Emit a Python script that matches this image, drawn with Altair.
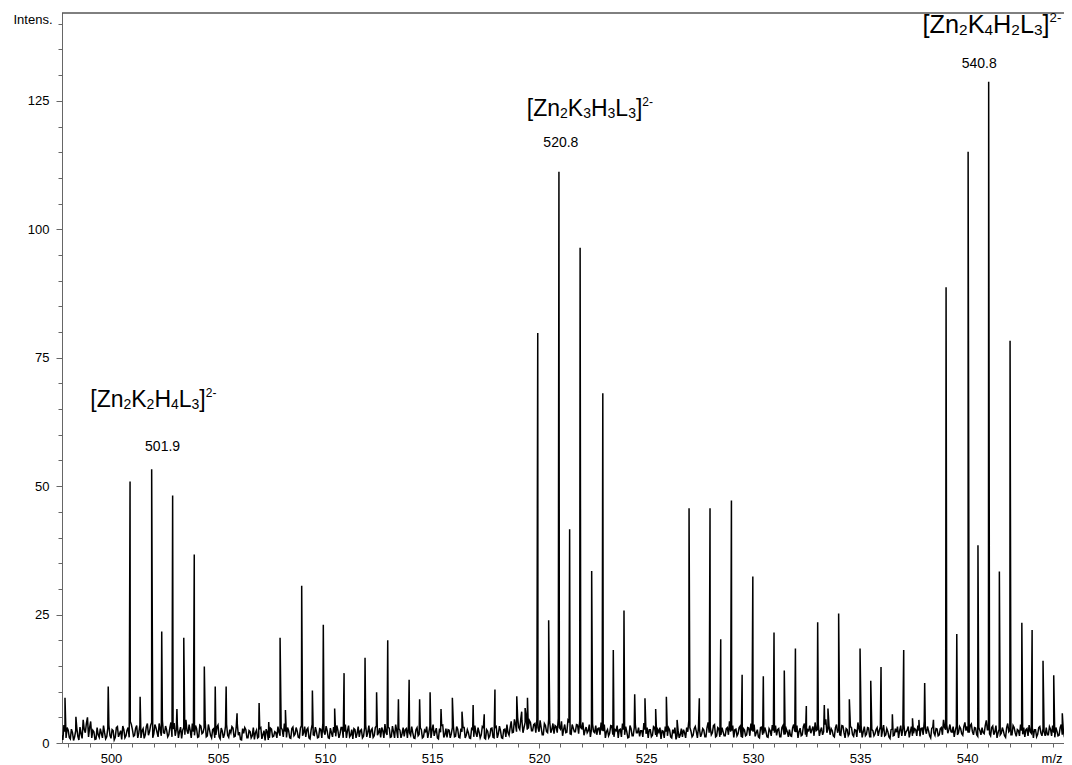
import altair as alt
import pandas as pd

# ---------------- data ----------------
X_DOMAIN = [497.71, 544.53]
Y_DOMAIN = [0, 142.1]

# baseline noise, one value every 0.1 m/z starting at 497.7 (hand-estimated)
NOISE_START = 497.7
NOISE_STEP = 0.1
NOISE = [
    1.5, 3.5, 1.0, 2.5, 0.8, 2.0, 1.2, 3.0, 0.6, 1.8,
    4.5, 2.0, 5.0, 3.0, 1.0, 2.2, 0.8, 1.6, 2.8, 1.0,
    2.0, 1.2, 3.5, 0.9, 2.4, 1.1, 3.2, 1.8, 0.7, 2.6,
    1.4, 3.0, 4.2, 2.6, 1.5, 3.4, 2.0, 1.0, 2.8, 1.6,
    3.8, 2.2, 4.0, 1.8, 3.0, 1.2, 2.6, 4.4, 1.9, 2.5,
    1.6, 4.0, 2.7, 1.4, 3.6, 2.2, 0.9, 3.0, 4.5, 1.8,
    2.4, 3.8, 1.5, 2.8, 1.2, 3.3, 2.0, 4.2, 1.4, 2.6,
    1.0, 2.8, 1.6, 3.5, 0.8, 2.3, 1.7, 3.6, 1.1, 2.0,
    2.9, 1.3, 3.8, 2.1, 0.6, 1.9, 2.6, 1.0, 2.2, 1.4,
    0.7, 2.5, 1.2, 3.0, 1.6, 0.5, 2.1, 1.0, 2.7, 1.3,
    2.0, 3.2, 1.4, 2.6, 3.8, 1.1, 2.4, 0.9, 3.1, 1.7,
    2.3, 1.0, 3.4, 2.0, 1.2, 2.9, 0.8, 3.6, 1.5, 2.2,
    1.1, 2.7, 3.9, 1.6, 2.4, 0.9, 2.0, 3.1, 1.3, 2.5,
    1.8, 3.0, 2.2, 1.0, 3.4, 1.5, 0.8, 2.6, 1.9, 1.2,
    2.6, 1.3, 3.5, 2.1, 1.0, 2.8, 1.4, 3.3, 2.0, 1.1,
    2.4, 3.7, 1.6, 2.9, 1.2, 2.2, 3.6, 1.0, 2.5, 1.8,
    1.3, 2.8, 3.4, 1.5, 2.0, 0.9, 3.0, 1.7, 2.6, 1.2,
    2.2, 1.0, 3.3, 2.4, 1.4, 2.9, 0.8, 2.1, 3.5, 1.6,
    1.1, 2.5, 1.8, 3.2, 1.3, 2.7, 1.0, 2.2, 3.0, 1.5,
    2.0, 0.9, 2.6, 3.4, 1.2, 2.1, 1.6, 3.0, 0.8, 2.3,
    1.4, 2.9, 1.0, 3.2, 1.8, 2.4, 0.9, 2.7, 3.6, 1.5,
    4.2, 2.1, 3.6, 5.0, 2.6, 4.4, 3.0, 5.2, 2.8, 4.0,
    2.4, 3.8, 4.6, 2.2, 3.0, 1.6, 3.4, 2.0, 4.1, 2.6,
    1.8, 3.2, 4.8, 2.7, 1.4, 3.6, 2.1, 4.0, 1.7, 2.9,
    2.2, 3.5, 4.3, 2.8, 1.5, 3.1, 2.4, 1.2, 3.7, 2.0,
    1.6, 2.9, 4.0, 2.3, 1.0, 2.6, 1.9, 3.3, 1.2, 2.4,
    1.0, 2.7, 3.8, 1.6, 2.2, 1.1, 2.8, 1.4, 3.6, 2.0,
    1.3, 2.4, 3.9, 1.8, 1.0, 2.6, 1.5, 3.0, 1.2, 2.1,
    0.8, 2.3, 3.2, 1.4, 2.6, 1.0, 1.9, 0.7, 2.4, 1.6,
    1.2, 2.0, 3.0, 4.4, 2.3, 1.5, 3.2, 1.0, 2.6, 1.8,
    2.5, 1.2, 4.0, 3.1, 2.0, 3.6, 1.4, 2.8, 1.6, 2.2,
    1.4, 3.0, 4.2, 2.4, 1.1, 2.7, 1.8, 3.3, 1.0, 2.5,
    1.6, 2.9, 3.8, 2.2, 1.3, 2.6, 1.0, 3.1, 1.9, 2.3,
    1.1, 2.4, 3.5, 2.0, 1.5, 2.8, 1.2, 3.4, 1.7, 2.2,
    2.6, 1.3, 3.6, 2.1, 1.0, 2.9, 1.6, 3.8, 1.2, 2.4,
    1.9, 3.2, 4.0, 2.6, 1.4, 3.0, 2.2, 4.6, 2.8, 1.6,
    2.4, 1.2, 3.6, 2.8, 1.5, 3.3, 1.0, 2.6, 1.8, 3.0,
    1.3, 2.5, 4.0, 2.0, 1.1, 3.2, 1.7, 2.9, 1.2, 2.4,
    1.8, 3.0, 2.4, 1.2, 3.5, 1.6, 2.2, 0.9, 2.7, 1.5,
    2.1, 1.0, 3.4, 2.8, 1.4, 2.5, 1.1, 3.2, 1.9, 2.6,
    3.4, 1.3, 2.9, 4.2, 1.8, 2.4, 1.0, 3.1, 1.5, 2.7,
    1.6, 3.0, 4.5, 2.6, 1.9, 3.6, 2.1, 1.2, 3.3, 2.0,
    2.8, 1.5, 4.0, 3.2, 2.0, 3.7, 1.6, 2.9, 1.3, 2.4,
    3.0, 1.8, 4.4, 2.6, 1.4, 3.3, 2.2, 1.0, 2.7, 1.9,
    2.3, 1.1, 3.8, 2.5, 1.6, 3.0, 1.3, 2.4, 3.6, 1.7,
    1.2, 2.8, 3.5, 1.9, 1.0, 2.6, 1.7, 3.2, 1.4, 2.2,
    3.0, 1.6, 2.7, 3.4, 1.1, 2.3, 1.5, 3.6, 2.4, 1.0,
    2.6, 1.4, 3.0,
]

# baseline noise at the midpoints 497.75, 497.85, ... (hand-estimated)
NOISE_MID_START = 497.75
NOISE_MID = [
    0.6, 2.2, 3.0, 1.1, 2.7, 0.5, 2.4, 1.3, 3.1, 0.9,
    2.6, 3.8, 1.2, 4.2, 2.5, 0.7, 3.0, 1.1, 1.9, 3.4,
    0.8, 2.9, 1.5, 2.6, 0.6, 3.0, 1.2, 2.4, 3.3, 1.0,
    2.5, 1.1, 3.6, 1.3, 2.9, 1.0, 3.5, 2.4, 0.9, 3.2,
    1.5, 3.4, 1.0, 3.6, 2.1, 3.8, 1.4, 2.0, 3.3, 1.2,
    3.0, 1.2, 3.9, 2.6, 1.0, 3.1, 2.5, 1.6, 2.4, 3.6,
    1.0, 2.2, 3.4, 1.1, 3.5, 1.8, 3.0, 1.2, 3.6, 1.5,
    2.6, 1.0, 3.1, 1.2, 2.9, 1.0, 3.3, 1.5, 2.6, 3.2,
    1.2, 3.1, 1.5, 0.7, 2.8, 3.0, 1.0, 2.4, 1.0, 3.0,
    2.0, 1.0, 2.8, 0.8, 2.4, 2.7, 0.6, 2.9, 1.2, 2.2,
    1.0, 2.1, 3.0, 1.2, 2.2, 3.0, 1.0, 2.8, 1.4, 3.0,
    1.1, 2.9, 1.4, 3.2, 2.6, 1.0, 2.5, 1.6, 3.1, 1.0,
    2.8, 1.0, 2.2, 3.3, 1.0, 2.9, 1.2, 2.0, 3.4, 1.0,
    3.0, 1.0, 3.6, 2.4, 1.2, 2.6, 2.8, 1.0, 3.2, 2.4,
    1.0, 3.0, 1.2, 3.4, 2.5, 1.1, 3.0, 1.5, 2.9, 3.0,
    1.0, 2.0, 3.0, 1.1, 3.3, 1.0, 2.4, 2.8, 1.0, 3.0,
    2.6, 1.0, 2.0, 3.2, 1.0, 2.6, 1.4, 3.0, 1.0, 2.5,
    3.2, 2.0, 1.0, 3.6, 2.2, 1.0, 2.8, 3.4, 1.1, 2.8,
    2.6, 1.0, 3.0, 1.2, 3.2, 1.1, 2.8, 3.0, 1.0, 2.6,
    1.0, 2.8, 1.2, 2.0, 3.0, 1.0, 3.2, 1.0, 2.6, 1.0,
    2.8, 1.1, 3.0, 1.0, 3.3, 1.0, 2.6, 1.2, 2.0, 3.0,
    2.0, 4.6, 2.2, 3.0, 4.8, 2.0, 4.0, 2.6, 4.4, 2.4,
    3.6, 2.0, 3.0, 4.4, 1.6, 3.8, 2.2, 4.6, 2.0, 3.8,
    3.4, 2.0, 3.0, 4.2, 2.6, 2.0, 4.4, 1.8, 3.6, 2.2,
    3.6, 1.8, 3.0, 4.0, 2.4, 2.0, 3.6, 2.6, 2.2, 3.4,
    2.8, 1.6, 2.4, 3.6, 2.2, 1.4, 3.4, 1.6, 2.6, 3.4,
    2.6, 1.2, 2.6, 3.2, 1.0, 3.4, 1.4, 3.0, 2.0, 3.0,
    2.4, 1.2, 2.6, 3.0, 2.6, 1.2, 3.2, 1.6, 2.6, 3.0,
    2.4, 1.0, 2.2, 3.0, 1.2, 2.6, 3.0, 1.4, 1.0, 2.8,
    2.6, 1.0, 2.2, 3.0, 1.2, 2.8, 2.2, 3.0, 1.2, 2.8,
    1.2, 3.0, 2.0, 1.6, 3.4, 1.2, 3.0, 1.2, 3.0, 1.4,
    2.8, 1.6, 2.2, 3.4, 2.6, 1.4, 3.0, 1.2, 2.8, 1.4,
    3.0, 1.4, 2.4, 3.6, 2.0, 1.2, 3.0, 1.6, 3.0, 1.2,
    2.8, 1.4, 2.4, 3.4, 2.6, 1.2, 3.0, 1.6, 2.8, 1.2,
    1.4, 3.0, 2.2, 3.4, 2.2, 1.4, 3.2, 1.6, 2.6, 3.4,
    2.6, 1.4, 2.4, 3.6, 2.4, 1.6, 3.6, 2.0, 3.4, 2.8,
    1.4, 3.0, 2.0, 1.6, 3.4, 2.0, 2.8, 1.4, 3.2, 1.6,
    2.6, 1.2, 2.8, 3.4, 2.2, 1.4, 3.0, 1.2, 2.6, 1.4,
    2.6, 1.4, 3.2, 2.4, 1.4, 2.8, 1.2, 2.6, 1.4, 2.8,
    3.2, 2.4, 1.4, 3.6, 2.2, 3.2, 2.2, 1.4, 2.8, 1.4,
    2.4, 2.8, 1.6, 2.8, 3.2, 1.4, 2.8, 2.0, 2.8, 1.4,
    2.8, 1.6, 3.0, 3.6, 2.6, 2.2, 3.2, 2.4, 1.6, 3.2,
    1.8, 3.2, 2.4, 2.0, 3.4, 2.2, 3.0, 1.6, 3.0, 1.6,
    2.0, 3.4, 2.6, 1.8, 3.0, 1.6, 3.4, 2.0, 1.6, 3.0,
    1.4, 3.0, 2.2, 1.6, 3.4, 2.0, 2.6, 1.4, 2.4, 3.0,
    2.6, 1.4, 2.2, 3.0, 2.6, 1.2, 3.0, 2.0, 2.8, 1.4,
    1.6, 3.2, 1.4, 2.0, 3.0, 1.4, 3.0, 1.6, 1.2, 3.0,
    1.6, 3.2,
]

# isotope peaks (m/z, intensity)
PEAK_MZ = [
    497.85, 498.36, 499.87, 500.89, 501.36, 501.90, 502.37, 502.88, 503.08,
    503.40, 503.89, 504.36, 504.87, 505.38, 505.89, 506.92, 507.37, 507.90,
    508.15, 508.91, 509.41, 509.92, 510.45, 510.89, 511.87, 512.41, 512.93,
    513.43, 513.93, 514.42, 514.91, 515.42, 515.95, 516.40, 516.92, 517.44,
    517.94, 518.96, 519.19, 519.35, 519.46, 519.94, 520.45, 520.93, 521.43,
    521.92, 522.46, 522.98, 523.47, 523.97, 524.47, 524.95, 525.45, 525.95,
    526.45, 527.01, 527.49, 527.99, 528.49, 528.99, 529.49, 529.99, 530.48,
    530.98, 531.46, 531.98, 532.49, 533.02, 533.33, 533.50, 534.00, 534.50,
    535.00, 535.50, 535.98, 536.51, 537.04, 537.45, 537.75, 538.02, 538.43,
    539.02, 539.52, 540.05, 540.51, 541.01, 541.51, 542.01, 542.56, 543.04,
    543.55, 544.05, 544.45,
]
PEAK_INT = [
    8.8, 5.1, 11.0, 50.9, 9.0, 53.3, 21.7, 48.2, 6.6,
    20.5, 36.7, 14.9, 11.0, 11.0, 5.8, 7.8, 4.1, 20.5,
    6.4, 30.6, 10.2, 23.0, 6.7, 13.6, 16.6, 9.9, 20.0,
    8.5, 12.3, 8.5, 9.9, 6.6, 8.8, 6.1, 7.4, 5.6,
    10.4, 9.1, 6.1, 6.8, 8.8, 79.8, 23.9, 111.2, 41.6,
    96.4, 33.5, 68.1, 18.1, 25.8, 9.5, 8.7, 6.6, 9.0,
    4.5, 45.7, 8.7, 45.7, 20.2, 47.2, 13.3, 32.4, 13.0,
    21.5, 14.1, 18.4, 7.2, 23.5, 7.4, 6.7, 25.2, 8.5,
    18.4, 12.1, 14.8, 5.6, 18.1, 4.8, 4.5, 11.7, 4.5,
    88.7, 21.2, 115.1, 38.5, 128.7, 33.4, 78.3, 23.4, 22.0,
    16.0, 13.2, 5.8,
]

# ion formula annotations (left edge and baseline, in data units)
FORMULA_MZ = [499.03, 519.43, 537.92]
FORMULA_INT = [65.5, 122.1, 138.2]
FORMULA_K = ["2", "3", "4"]
FORMULA_H = ["4", "3", "2"]
FORMULA_SCALE = [1.0, 1.0, 1.10]

# m/z labels
MASS_TEXT = ["501.9", "520.8", "540.8"]
MASS_MZ = [502.41, 521.02, 540.57]
MASS_INT = [56.9, 116.1, 131.4]

X_TICKS = list(range(498, 545))
Y_TICKS = list(range(0, 141, 5))

FONT = "Liberation Sans"
PLOT_W = 1002
PLOT_H = 730

# ---------------- tables ----------------
noise_df = pd.DataFrame({
    "mz": [round(NOISE_START + i * NOISE_STEP, 3) for i in range(len(NOISE))]
    + [round(NOISE_MID_START + i * NOISE_STEP, 3) for i in range(len(NOISE_MID))],
    "intensity": NOISE + NOISE_MID,
})
peak_df = pd.DataFrame({"mz": PEAK_MZ, "intensity": PEAK_INT})
spec = pd.concat([noise_df, peak_df]).sort_values("mz", kind="stable").reset_index(drop=True)
spec["order"] = range(len(spec))

xs = alt.Scale(domain=X_DOMAIN, nice=False, zero=False)
ys = alt.Scale(domain=Y_DOMAIN, nice=False, zero=False)

x_axis = alt.Axis(
    orient="bottom", values=X_TICKS,
    labelExpr="datum.value % 5 === 0 ? datum.label : ''",
    labelOverlap=False, labelFlush=False, labelBound=False,
    tickSize={"condition": {"test": "datum.value % 5 === 0", "value": 5}, "value": 4},
    labelPadding=4,
    title="m/z", titleX=PLOT_W - 2, titleY=19, titleAlign="right",
    titleBaseline="alphabetic", titleAnchor="start",
)
y_axis = alt.Axis(
    orient="left", values=Y_TICKS,
    labelExpr="datum.value % 25 === 0 ? datum.label : ''",
    labelOverlap=False, labelBound=False,
    tickSize={"condition": {"test": "datum.value % 25 === 0", "value": 6}, "value": 4},
    labelPadding=7,
    title="Intens.", titleAngle=0, titleX=-10, titleY=10,
    titleAlign="right", titleBaseline="alphabetic", titleAnchor="start",
)

line = alt.Chart(spec).mark_line(color="black", strokeWidth=1.5, clip=True).encode(
    x=alt.X("mz:Q", scale=xs, axis=x_axis),
    y=alt.Y("intensity:Q", scale=ys, axis=y_axis),
    order="order:Q",
)

# top frame line of the plot box
frame = alt.Chart(pd.DataFrame({"k": [0]})).mark_rule(color="black", strokeWidth=1).encode(
    x=alt.value(0), x2=alt.value(PLOT_W), y=alt.value(0)
)

mass_df = pd.DataFrame({"mz": MASS_MZ, "intensity": MASS_INT, "label": MASS_TEXT})
mass = alt.Chart(mass_df).mark_text(
    font=FONT, fontSize=14, align="center", baseline="alphabetic", color="black"
).encode(
    x=alt.X("mz:Q", scale=xs, axis=None),
    y=alt.Y("intensity:Q", scale=ys, axis=None),
    text="label:N",
)

# formula pieces: (text key, kind, advance width in em of an Arial-metric font)
PIECES = [
    ("[Zn", "main", 1.445), ("2", "sub", 0.556), ("K", "main", 0.667),
    ("k", "sub", 0.556), ("H", "main", 0.722), ("h", "sub", 0.556),
    ("L", "main", 0.556), ("3", "sub", 0.556), ("]", "main", 0.278),
    ("2-", "sup", 0.9),
]
SIZES = {"main": 23, "sub": 14, "sup": 12}
DYS = {"main": 0, "sub": 2, "sup": -10}

formula_layers = []
for i in range(len(FORMULA_MZ)):
    sc = FORMULA_SCALE[i]
    dx = 0.0
    for key, kind, adv in PIECES:
        txt = FORMULA_K[i] if key == "k" else FORMULA_H[i] if key == "h" else key
        d = pd.DataFrame({"mz": [FORMULA_MZ[i]], "intensity": [FORMULA_INT[i]], "t": [txt]})
        fs = SIZES[kind] * sc
        formula_layers.append(
            alt.Chart(d).mark_text(
                font=FONT, fontSize=fs, align="left",
                baseline="alphabetic", dx=dx, dy=DYS[kind] * sc, color="black"
            ).encode(
                x=alt.X("mz:Q", scale=xs, axis=None),
                y=alt.Y("intensity:Q", scale=ys, axis=None),
                text="t:N",
            )
        )
        dx += adv * fs

chart = alt.layer(line, frame, mass, *formula_layers).resolve_axis(
    x="independent", y="independent"
).properties(
    width=PLOT_W, height=PLOT_H,
    autosize=alt.AutoSizeParams(type="none"),
    padding={"left": 54, "top": 5, "right": 0, "bottom": 22},
    background="white",
).configure_view(
    stroke=None
).configure_axis(
    grid=False, domainColor="#666", tickColor="#666", labelColor="black",
    titleColor="black", labelFont=FONT, titleFont=FONT, labelFontSize=13,
    titleFontSize=13, titleFontWeight="normal",
)

chart.save("out.html", embed_options={"renderer": "svg", "actions": False})
